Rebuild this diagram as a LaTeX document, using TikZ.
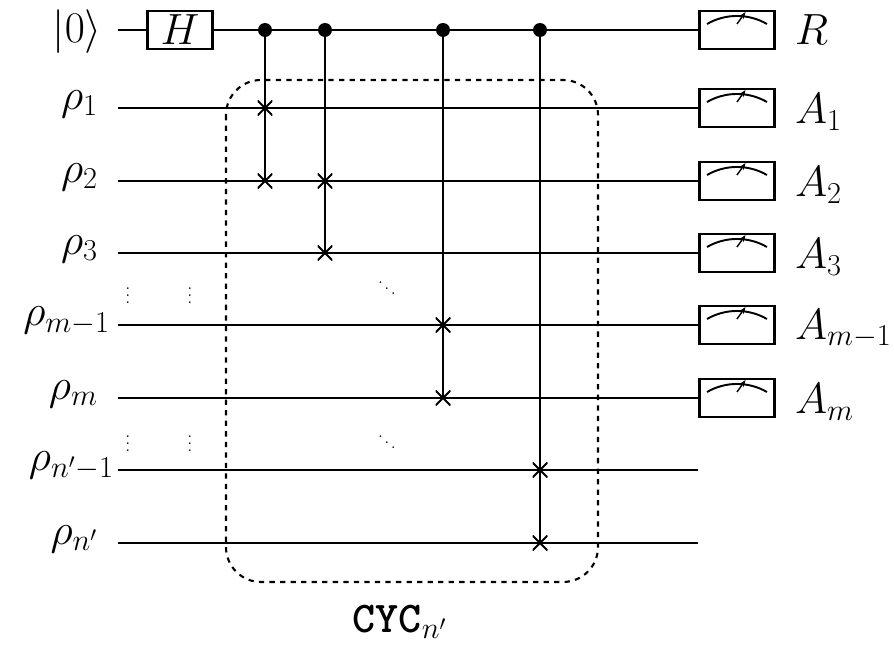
\documentclass[tikz,border=0pt]{standalone}
\usetikzlibrary{arrows.meta}
\begin{document}
\begin{tikzpicture}[x=0.02cm,y=-0.02cm,
  wire/.style={line width=1.2pt},
  big/.style={font=\fontsize{25}{27}\selectfont},
  gatebox/.style={draw,line width=1.2pt,fill=white,minimum width=1.3cm,minimum height=0.76cm,inner sep=0pt},
  meterbox/.style={draw,line width=1.2pt,fill=white,minimum width=1.5cm,minimum height=0.76cm,inner sep=0pt},
  lbl/.style={big,anchor=east,inner sep=1pt},
  rlbl/.style={big,anchor=west,inner sep=1pt},
  ctrl/.style={circle,fill,inner sep=0pt,minimum size=0.28cm},
  smalldots/.style={font=\small,inner sep=0pt},
  targ/.style={inner sep=0pt,minimum size=0.3cm,path picture={\draw[line width=1.2pt](path picture bounding box.south west)--(path picture bounding box.north east)(path picture bounding box.north west)--(path picture bounding box.south east);}}]
\useasboundingbox (0,0) rectangle (894,652);
% left labels
\node[lbl] (l0) at (104,32) {$|0\rangle$};
\node[lbl] (l1) at (100,104) {$\rho_1$};
\node[lbl] (l2) at (100,177) {$\rho_2$};
\node[lbl] (l3) at (100,249) {$\rho_3$};
\node[lbl] (l4) at (112,321) {$\rho_{m-1}$};
\node[lbl] (l5) at (100,394) {$\rho_m$};
\node[lbl] (l6) at (116,466) {$\rho_{n'-1}$};
\node[lbl] (l7) at (100,539) {$\rho_{n'}$};
% wires
\foreach \y/\n in {30/0,108/1,181/2,253/3,325/4,398/5} {
  \coordinate (s\n) at (118,\y);
  \node[meterbox] (m\n) at (737,\y) {};
  \draw[wire] (s\n) -- (m\n.west);
  \draw[line width=1.1pt] ([xshift=-0.6cm,yshift=0.12cm]m\n.center) arc[start angle=120,end angle=60,radius=1.2cm];
  \draw[-{Stealth[length=4pt]},line width=0.8pt] ([yshift=0.12cm]m\n.center) -- ++(0.17cm,0.24cm);
}
\foreach \y/\n in {470/6,543/7} {
  \coordinate (s\n) at (118,\y);
  \coordinate (e\n) at (698,\y);
  \draw[wire] (s\n) -- (e\n);
}
\node[gatebox,big] (H) at (180,30) {$H$};
% right labels
\node[rlbl] (r0) at (793,30) {$R$};
\node[rlbl] (r1) at (793,112) {$A_1$};
\node[rlbl] (r2) at (793,185) {$A_2$};
\node[rlbl] (r3) at (793,257) {$A_3$};
\node[rlbl] (r4) at (793,329) {$A_{m-1}$};
\node[rlbl] (r5) at (793,402) {$A_m$};
% controlled swaps
\foreach \x/\a/\b/\i in {265/108/181/1,325/181/253/2,443/325/398/3,540/470/543/4} {
  \node[ctrl] (c\i) at (\x,30) {};
  \node[targ] (ta\i) at (\x,\a) {};
  \node[targ] (tb\i) at (\x,\b) {};
  \draw[wire] (c\i.center) -- (tb\i.center);
}
% dashed box
\draw[dashed,line width=1.2pt,rounded corners=0.7cm] (226,80) rectangle (598,582);
\node[big] (cyc) at (400,622) {$\texttt{\textbf{CYC}}_{n'}$};
% dots
\node[smalldots] (va1) at (128,290) {$\vdots$};
\node[smalldots] (vb1) at (190,290) {$\vdots$};
\node[smalldots] (va2) at (128,438) {$\vdots$};
\node[smalldots] (vb2) at (190,438) {$\vdots$};
\node[smalldots] (d1) at (387,283) {$\ddots$};
\node[smalldots] (d2) at (387,437) {$\ddots$};
\end{tikzpicture}
\end{document}
